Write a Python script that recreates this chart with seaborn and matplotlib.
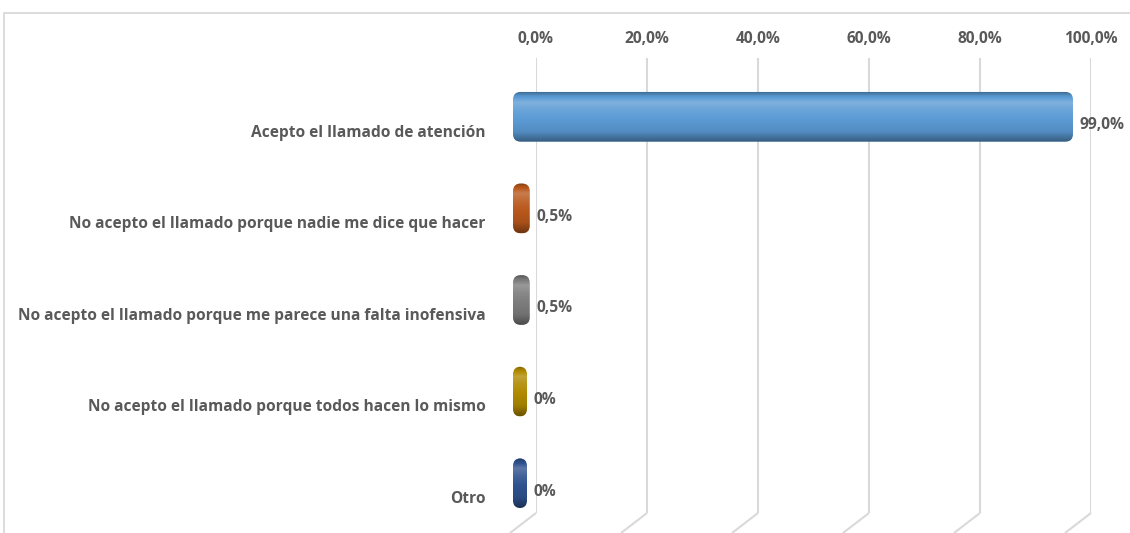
import matplotlib
matplotlib.use("Agg")
import matplotlib.pyplot as plt
import numpy as np
import pandas as pd
import seaborn as sns
from matplotlib.patches import FancyBboxPatch, Rectangle
from matplotlib.transforms import ScaledTranslation

# data
categories = ["Acepto el llamado de atención",
              "No acepto el llamado porque nadie me dice que hacer",
              "No acepto el llamado porque me parece una falta inofensiva",
              "No acepto el llamado porque todos hacen lo mismo",
              "Otro"]
values = [99.0, 0.5, 0.5, 0.0, 0.0]
value_labels = ["99,0%", "0,5%", "0,5%", "0%", "0%"]
tick_values = [0, 20, 40, 60, 80, 100]
tick_labels = ["0,0%", "20,0%", "40,0%", "60,0%", "80,0%", "100,0%"]
bar_colors = ["#5B9BD5", "#B9581C", "#7C7C7C", "#B08A00", "#2F528F"]

text_color = "#595959"
grid_color = "#D9D9D9"
fsize = 11.2

sns.set_style("white")
plt.rcParams["font.family"] = ["Open Sans", "DejaVu Sans"]
plt.rcParams["font.weight"] = "bold"

W, H, DPI = 1130, 533, 100
fig = plt.figure(figsize=(W / DPI, H / DPI), dpi=DPI)

# chart frame (only top and left edges are visible in the crop)
fig.add_artist(Rectangle((4 / W, -0.2), 1.5, (H - 13) / H + 0.2,
                         transform=fig.transFigure, fill=False,
                         edgecolor=grid_color, lw=1.3))

# back wall: gridlines and value axis labels
back = fig.add_axes([536 / W, (H - 513) / H, (1091 - 536) / W, (513 - 58) / H])
back.set_xlim(0, 100)
back.set_ylim(0, 1)
back.set_xticks(tick_values)
back.set_xticklabels(tick_labels, color=text_color, fontsize=fsize,
                     fontweight="bold")
back.xaxis.tick_top()
back.tick_params(axis="x", length=0, pad=8)
back.set_yticks([])
back.grid(axis="x", color=grid_color, lw=1.5)
for s in back.spines.values():
    s.set_visible(False)
back.patch.set_alpha(0)
# 3D floor: gridlines bend towards the viewer
dx = 26 / ((1091 - 536) / 100)
dy = 20 / (513 - 58)
for t in tick_values:
    back.plot([t, t - dx], [0, -dy], color=grid_color, lw=1.5,
              clip_on=False, solid_capstyle="butt")

# front plane: the bars
front = fig.add_axes([520 / W, (H - 529) / H, (1071.5 - 520) / W, (529 - 71) / H])
df = pd.DataFrame({"categoria": categories, "valor": values})
sns.barplot(data=df, x="valor", y="categoria", hue="categoria",
            palette=bar_colors, saturation=1, width=0.39, legend=False,
            linewidth=0, ax=front)
front.set_xlim(0, 100)
front.set_ylim(len(categories) - 0.5, -0.5)
front.patch.set_alpha(0)
for s in front.spines.values():
    s.set_visible(False)
front.set_xticks([])
front.set_xlabel("")
front.set_ylabel("")
front.tick_params(axis="y", length=0, pad=25)
for lab in front.get_yticklabels():
    lab.set_color(text_color)
    lab.set_fontsize(fsize)
    lab.set_fontweight("bold")
    lab.set_transform(lab.get_transform()
                      + ScaledTranslation(0, -10 / 72, fig.dpi_scale_trans))

# rounded cylinder look: a rounded box around each bar plus a shading overlay
cap_px = 7
px_x = (1071.5 - 520) / 100
px_y = (529 - 71) / len(categories)
pad_x = cap_px / px_x
aspect = px_x / px_y
stops = [0.0, 0.06, 0.2, 0.35, 0.55, 0.8, 0.93, 1.0]
alphas = [-0.30, -0.08, 0.22, 0.10, 0.0, -0.10, -0.30, -0.40]
rows = np.linspace(0, 1, 64)
a = np.interp(rows, stops, alphas)
grad = np.zeros((64, 1, 4))
grad[a > 0, 0, :3] = 1.0
grad[:, 0, 3] = np.abs(a)

bars = [p for p in front.patches]
for p in bars:
    x0, y0, w, h = p.get_x(), p.get_y(), p.get_width(), p.get_height()
    shape = FancyBboxPatch((x0, y0), w, h,
                           boxstyle=f"round,pad={pad_x},rounding_size={pad_x * 1.1}",
                           mutation_aspect=aspect, transform=front.transData,
                           facecolor=p.get_facecolor(), edgecolor="none",
                           zorder=2, clip_on=False)
    front.add_patch(shape)
    shape.set_clip_on(False)
    im = front.imshow(grad, extent=(x0 - pad_x, x0 + w + pad_x,
                                    y0 + h + pad_x * aspect,
                                    y0 - pad_x * aspect),
                      origin="upper", aspect="auto", zorder=3,
                      interpolation="bilinear")
    im.set_clip_box(fig.bbox)
    im.set_clip_path(shape)

for p, lab in zip(bars, value_labels):
    front.annotate(lab, xy=(p.get_x() + p.get_width(),
                            p.get_y() + p.get_height() / 2),
                   xytext=(10, -6), textcoords="offset points",
                   ha="left", va="center", color=text_color,
                   fontsize=fsize, fontweight="bold", zorder=4)

front.set_xlim(0, 100)
front.set_ylim(len(categories) - 0.5, -0.5)

fig.savefig("out.png", dpi=DPI, facecolor="white")
